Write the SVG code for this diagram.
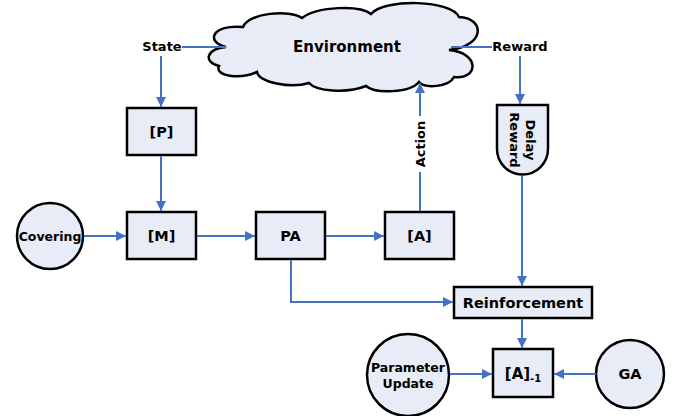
<svg xmlns="http://www.w3.org/2000/svg" width="676" height="416" viewBox="0 0 676 416">
<defs>
<marker id="ah" viewBox="0 0 10 10" refX="10" refY="5" markerWidth="10" markerHeight="10" markerUnits="userSpaceOnUse" orient="auto">
<path d="M0 0 L10 5 L0 10 Z" fill="#4472C4"/>
</marker>
<style>
.n{fill:#E7ECF7;stroke:#000;stroke-width:2.5}
.c{fill:none;stroke:#4472C4;stroke-width:2}
.a{marker-end:url(#ah)}
text{font-family:"DejaVu Sans","Verdana",sans-serif;font-weight:bold;fill:#000;text-anchor:middle}
.l{font-size:13px}
.b{font-size:14.5px}
</style>
</defs>
<rect width="676" height="416" fill="#fff"/>
<g id="environment">
<path class="n" d="M226 47 C205 42,212 24,243 27 C248 13,290 9,302 18 C318 6,360 5,371 14 C385 -2,452 0,459 17 C485 18,486 46,449 50 C481 53,478 80,454 77 C449 87,425 89,419 82 C410 93,375 94,366 86 C346 94,316 91,309 83 C290 89,259 82,257 72 C240 80,214 76,219 66 C203 62,206 49,226 47 Z"/>
<text x="347" y="52" style="font-size:15px">Environment</text>
</g>
<g id="state-label"><text class="l" x="162" y="51">State</text></g>
<g id="reward-label"><text class="l" x="520" y="51">Reward</text></g>
<g id="action-label"><text class="l" transform="translate(425 144) rotate(-90)">Action</text></g>
<g id="P"><rect class="n" x="127" y="108" width="69" height="47"/><text class="b" x="161.5" y="137">[P]</text></g>
<g id="M"><rect class="n" x="127" y="212" width="69" height="47"/><text class="b" x="161.5" y="241">[M]</text></g>
<g id="PA"><rect class="n" x="256" y="212" width="69" height="47"/><text class="b" x="290.5" y="241">PA</text></g>
<g id="A"><rect class="n" x="385" y="212" width="69" height="47"/><text class="b" x="419.5" y="241">[A]</text></g>
<g id="covering"><circle class="n" cx="50" cy="236" r="33"/><text x="50" y="241" style="font-size:12.5px">Covering</text></g>
<g id="delay-reward">
<path class="n" d="M497 105 H548 V149 A25.5 25.5 0 0 1 497 149 Z"/>
<text class="l" transform="translate(522 140) rotate(90)"><tspan x="0" y="-4">Delay</tspan><tspan x="0" y="12">Reward</tspan></text>
</g>
<g id="reinforcement"><rect class="n" x="454" y="287" width="138" height="31"/><text class="b" x="523" y="308">Reinforcement</text></g>
<g id="A-1"><rect class="n" x="493" y="349" width="60" height="48"/><text x="523" y="379" style="font-size:15px">[A]<tspan dy="3" style="font-size:10px">-1</tspan></text></g>
<g id="param-update"><circle class="n" cx="408" cy="375" r="41"/><text x="408" y="372" style="font-size:12.5px">Parameter</text><text x="408" y="388" style="font-size:12.5px">Update</text></g>
<g id="GA"><circle class="n" cx="630" cy="374" r="34"/><text class="b" x="630" y="379">GA</text></g>
<g id="connectors">
<path class="c" d="M182 47 H226"/>
<path class="c a" d="M161 56 V107"/>
<path class="c" d="M451 47 H492"/>
<path class="c a" d="M520 56 V104"/>
<path class="c a" d="M161 156 V211"/>
<path class="c a" d="M84 236 H126"/>
<path class="c a" d="M197 236 H255"/>
<path class="c a" d="M326 236 H384"/>
<path class="c" d="M420 211 V172"/>
<path class="c a" d="M420 116 V83"/>
<path class="c a" d="M522 176 V286"/>
<path class="c a" d="M291 260 V302 H453"/>
<path class="c a" d="M522 319 V348"/>
<path class="c a" d="M450 374 H492"/>
<path class="c a" d="M596 374 H554"/>
</g>
</svg>
